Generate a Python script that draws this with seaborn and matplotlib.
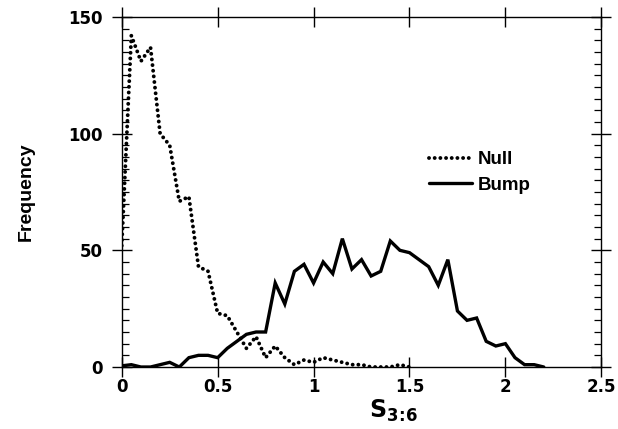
import numpy as np
import pandas as pd
import matplotlib
matplotlib.use("Agg")
import matplotlib.pyplot as plt
from matplotlib.ticker import MultipleLocator
import seaborn as sns

# Histogram counts of S_3:6, bins every 0.05
null_x = [0.00, 0.05, 0.10, 0.15, 0.20, 0.25, 0.30, 0.35, 0.40, 0.45,
          0.50, 0.55, 0.60, 0.65, 0.70, 0.75, 0.80, 0.85, 0.90, 0.95,
          1.00, 1.05, 1.10, 1.15, 1.20, 1.25, 1.30, 1.35, 1.40, 1.45, 1.50]
null_y = [52, 142, 131, 137, 100, 95, 71, 73, 43, 41,
          23, 22, 15, 8, 13, 4, 9, 4, 1, 3,
          2, 4, 3, 2, 1, 1, 0, 0, 0, 1, 0]

bump_x = [0.00, 0.05, 0.10, 0.15, 0.20, 0.25, 0.30, 0.35, 0.40, 0.45,
          0.50, 0.55, 0.60, 0.65, 0.70, 0.75, 0.80, 0.85, 0.90, 0.95,
          1.00, 1.05, 1.10, 1.15, 1.20, 1.25, 1.30, 1.35, 1.40, 1.45,
          1.50, 1.55, 1.60, 1.65, 1.70, 1.75, 1.80, 1.85, 1.90, 1.95,
          2.00, 2.05, 2.10, 2.15, 2.20]
bump_y = [0.5, 1, 0, 0, 1, 2, 0, 4, 5, 5,
          4, 8, 11, 14, 15, 15, 36, 27, 41, 44,
          36, 45, 40, 55, 42, 46, 39, 41, 54, 50,
          49, 46, 43, 35, 46, 24, 20, 21, 11, 9,
          10, 4, 1, 1, 0]

x_ticks = [0, 0.5, 1, 1.5, 2, 2.5]
x_tick_labels = ["0", "0.5", "1", "1.5", "2", "2.5"]
y_ticks = [0, 50, 100, 150]
y_tick_labels = ["0", "50", "100", "150"]

sns.set_style("ticks")
plt.rcParams["font.family"] = ["Liberation Sans", "DejaVu Sans"]
plt.rcParams["font.weight"] = "bold"
for key in ["text.color", "axes.labelcolor", "xtick.color", "ytick.color",
            "axes.edgecolor"]:
    plt.rcParams[key] = "black"

DOTS = (0, (0.01, 1.45))

fig = plt.figure(figsize=(6.18, 4.29), dpi=100)
ax = fig.add_axes([0.197, 0.1445, 0.776, 0.816])

df_null = pd.DataFrame({"S": null_x, "Frequency": null_y})
df_bump = pd.DataFrame({"S": bump_x, "Frequency": bump_y})

sns.lineplot(data=df_null, x="S", y="Frequency", ax=ax, color="black",
             lw=2.8, label="Null")
sns.lineplot(data=df_bump, x="S", y="Frequency", ax=ax, color="black",
             lw=2.4, label="Bump")

# dotted style for the null distribution
null_line, bump_line = ax.lines[0], ax.lines[1]
null_line.set_linestyle(DOTS)
null_line.set_dash_capstyle("round")
bump_line.set_solid_joinstyle("miter")

ax.set_xlim(0, 2.5)
ax.set_ylim(0, 150)

for side in ["top", "right", "left", "bottom"]:
    ax.spines[side].set_visible(True)
    ax.spines[side].set_linewidth(1.0)
    ax.spines[side].set_color("black")

ax.set_xticks(x_ticks)
ax.set_xticklabels(x_tick_labels)
ax.set_yticks(y_ticks)
ax.set_yticklabels(y_tick_labels)
ax.yaxis.set_minor_locator(MultipleLocator(5))

ax.tick_params(axis="x", which="major", direction="inout", length=14,
               width=1.0, top=True, bottom=True, pad=1, colors="black")
ax.tick_params(axis="y", which="major", direction="inout", length=14,
               width=1.0, left=True, right=True, pad=7, colors="black")
ax.tick_params(axis="y", which="minor", direction="in", length=5,
               width=0.9, left=True, right=True, colors="black")
for lab in ax.get_xticklabels() + ax.get_yticklabels():
    lab.set_fontfamily("DejaVu Sans")
    lab.set_fontweight("bold")
    lab.set_fontsize(12)

ax.set_xlabel(r"$\mathbf{S}_{\mathbf{3\!:\!6}}$", fontsize=17)
ax.xaxis.set_label_coords(0.566, -0.088)
ax.xaxis.label.set_verticalalignment("top")
ax.set_ylabel("Frequency", fontsize=14, fontweight="bold", labelpad=24)

leg = ax.legend(loc="upper left", bbox_to_anchor=(0.605, 0.665),
                frameon=False, handlelength=2.3, handletextpad=0.3,
                labelspacing=0.45, prop={"size": 13.5, "weight": "bold"})
leg.get_lines()[0].set_linestyle(DOTS)
leg.get_lines()[0].set_dash_capstyle("round")

fig.savefig("out.png", dpi=100)
